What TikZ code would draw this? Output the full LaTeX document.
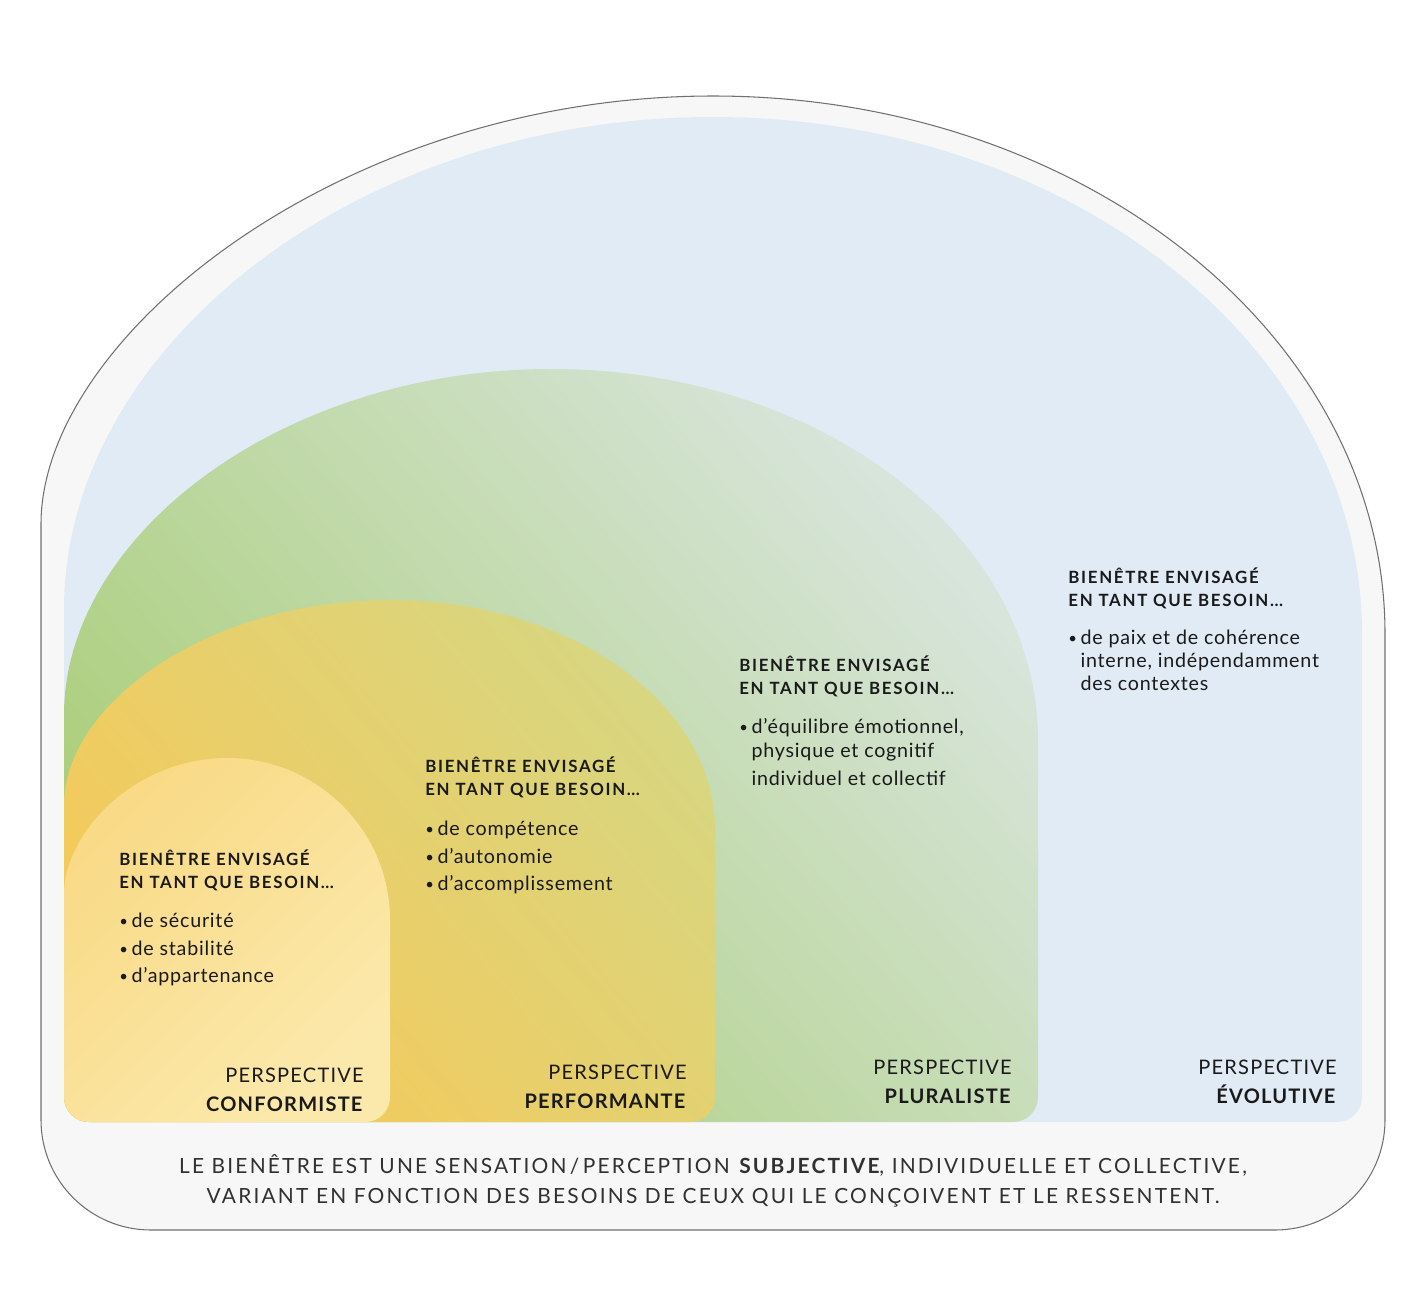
\documentclass[tikz,border=0pt]{standalone}
\usepackage{fontspec}
\setmainfont{Lato}
\newfontfamily\hdrfont[LetterSpace=10]{Lato}
\newfontfamily\needfont[LetterSpace=4]{Lato}
\newfontfamily\spacedfont[LetterSpace=6]{Lato}
\newfontfamily\footfont[LetterSpace=10.5]{Lato}
\usepackage{xcolor}
\usetikzlibrary{positioning}

\definecolor{outerfill}{HTML}{F7F7F7}
\definecolor{outerline}{HTML}{707070}
\definecolor{evoblue}{HTML}{E0EBF5}
\definecolor{plurdark}{HTML}{AACE78}
\definecolor{plurlight}{HTML}{D8E5DC}
\definecolor{perfdark}{HTML}{F6C958}
\definecolor{perflight}{HTML}{D8D680}
\definecolor{confdark}{HTML}{F9DA86}
\definecolor{conflight}{HTML}{FBE9AC}
\definecolor{ink}{HTML}{1A1A1A}

\newcommand{\itm}{\makebox[0.62em][l]{\raisebox{0.6pt}{\fontsize{8.5}{8.5}\selectfont\textbullet}}}
\newcommand{\ind}{\hspace*{0.62em}}

\begin{document}
\begin{tikzpicture}[
    x=0.02cm, y=-0.02cm,
    header/.style={anchor=base west, inner sep=0, align=left, text=ink,
        font=\fontsize{9.6}{13}\hdrfont\bfseries},
    needs/.style={anchor=base west, inner sep=0, align=left, text=ink,
        font=\fontsize{11.2}{15.9}\needfont},
    persp/.style={anchor=base east, inner sep=0, align=right, text=ink,
        font=\fontsize{11.4}{16.4}\spacedfont},
    foot/.style={anchor=base, inner sep=0, align=center, text=ink!90,
        font=\fontsize{11.9}{17}\footfont},
]
\useasboundingbox (0,0) rectangle (1426,1292);

\filldraw[fill=outerfill, draw=outerline, line width=0.6pt]
    (41,634) arc[start angle=180, end angle=360, x radius=672, y radius=538]
    [rounded corners=2.2cm] -- (1385,1230) -- (41,1230) -- cycle;

\fill[evoblue]
    (64,634) arc[start angle=180, end angle=360, x radius=649, y radius=517]
    [rounded corners=0.5cm] -- (1362,1122) -- (64,1122) -- cycle;

\shade[top color=plurlight, bottom color=plurdark, shading angle=-50]
    (64,740) arc[start angle=180, end angle=360, x radius=487, y radius=371]
    [rounded corners=0.5cm] -- (1038,1122) -- (64,1122) -- cycle;

\shade[top color=perflight, bottom color=perfdark, shading angle=-50]
    (64,830) arc[start angle=180, end angle=360, x radius=325.5, y radius=230]
    [rounded corners=0.5cm] -- (715,1122) -- (64,1122) -- cycle;

\shade[top color=confdark, bottom color=conflight, shading angle=45]
    (64,920) arc[start angle=180, end angle=360, x radius=163, y radius=162]
    [rounded corners=0.5cm] -- (390,1122) -- (64,1122) -- cycle;

\node[header] (hdrConf) at (119,888) {BIENÊTRE ENVISAGÉ\\EN TANT QUE BESOIN\dots};
\node[needs, below=1.9cm of hdrConf.base west, anchor=base west] (needConf)
    {\itm de sécurité\\\itm de stabilité\\\itm d’appartenance};
\node[persp] (perspConf) at (364,1111) {PERSPECTIVE\\\textbf{CONFORMISTE}};

\node[header] (hdrPerf) at (425,795) {BIENÊTRE ENVISAGÉ\\EN TANT QUE BESOIN\dots};
\node[needs, below=1.92cm of hdrPerf.base west, anchor=base west] (needPerf)
    {\itm de compétence\\\itm d’autonomie\\\itm d’accomplissement};
\node[persp] (perspPerf) at (687,1108) {PERSPECTIVE\\\textbf{PERFORMANTE}};

\node[header] (hdrPlur) at (739,694) {BIENÊTRE ENVISAGÉ\\EN TANT QUE BESOIN\dots};
\node[needs, font=\fontsize{11.2}{13.6}\needfont,
      below=1.84cm of hdrPlur.base west, anchor=base west] (needPlur)
    {\itm d’équilibre émotionnel,\\\ind physique et cognitif\\[2.8pt]\ind individuel et collectif};
\node[persp] (perspPlur) at (1012,1103) {PERSPECTIVE\\\textbf{PLURALISTE}};

\node[header] (hdrEvo) at (1068,606) {BIENÊTRE ENVISAGÉ\\EN TANT QUE BESOIN\dots};
\node[needs, font=\fontsize{11.2}{13.1}\needfont,
      below=1.7cm of hdrEvo.base west, anchor=base west] (needEvo)
    {\itm de paix et de cohérence\\\ind interne, indépendamment\\\ind des contextes};
\node[persp] (perspEvo) at (1337,1103) {PERSPECTIVE\\\textbf{ÉVOLUTIVE}};

\node[foot] (footer) at (713,1203)
    {LE BIENÊTRE EST UNE SENSATION\,/\,PERCEPTION \textbf{SUBJECTIVE}, INDIVIDUELLE ET COLLECTIVE,\\
     VARIANT EN FONCTION DES BESOINS DE CEUX QUI LE CONÇOIVENT ET LE RESSENTENT.};
\end{tikzpicture}
\end{document}
